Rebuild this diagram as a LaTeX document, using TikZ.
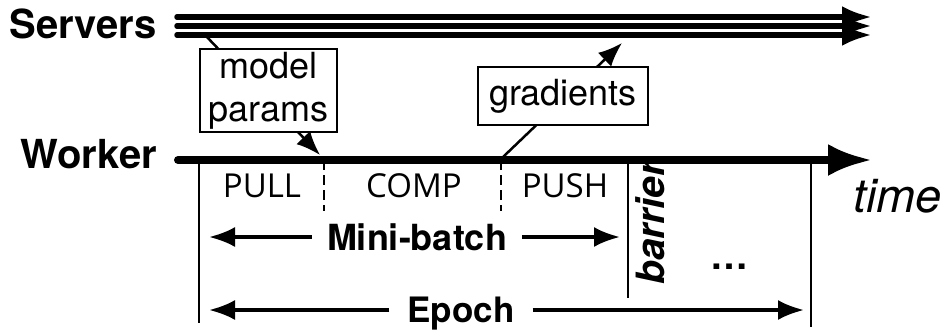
\documentclass[tikz,border=0pt]{standalone}
\usepackage{fontspec}
\setmainfont{TeX Gyre Heros}
\newfontfamily\phasefont{Open Sans}
\usetikzlibrary{arrows.meta}

\begin{document}
\begin{tikzpicture}[x=1pt,y=-1pt]
\tikzstyle{rolename}=[font=\fontsize{40}{44}\selectfont\bfseries, anchor=base east, inner sep=0pt]
\tikzstyle{msgbox}=[draw, line width=2pt, fill=white, align=center, font=\fontsize{36}{43}\selectfont, inner sep=0pt]
\tikzstyle{msg}=[-{Latex[length=24pt,width=19pt]}, line width=2.5pt]
\tikzstyle{phase}=[font=\fontsize{33}{36}\selectfont\phasefont]
\tikzstyle{spanname}=[font=\fontsize{36}{40}\selectfont\bfseries, text depth=0pt, inner ysep=0pt]
\tikzstyle{span}=[-{Latex[length=26pt,width=20pt]}, line width=3.5pt]
\tikzstyle{tickline}=[line width=2.5pt]
\tikzstyle{phaseline}=[tickline, dash pattern=on 10pt off 5pt]

\useasboundingbox (0,0) rectangle (949,330);

\node[rolename] (S) at (157,38) {Servers};
\node[rolename] (W) at (157,168) {Worker};

% server timelines
\foreach \y in {17,26,35}
  \draw[line width=5.5pt, line cap=round, -{Latex[length=30pt,width=22pt]}] (177,\y) -- (872,\y);

% worker timeline
\coordinate (w0) at (178,160);
\coordinate (w1) at (872,160);
\draw[line width=8pt, line cap=round, -{Latex[length=44pt,width=32pt]}] (w0) -- (w1);

% ticks under the worker line
\draw[tickline] (199,160) -- (199,323);
\draw[phaseline] (324,160) -- (324,211);
\draw[phaseline] (501,160) -- (501,211);
\draw[tickline] (628,160) -- (628,298);
\draw[tickline] (811,160) -- (811,327);

% messages
\coordinate (pullsrc) at (205,35);
\coordinate (pulldst) at (320,155);
\coordinate (pushsrc) at (503,157);
\coordinate (pushdst) at (622,43);
\draw[msg] (pullsrc) -- (pulldst);
\draw[msg] (pushsrc) -- (pushdst);
\node[msgbox, minimum width=137pt, minimum height=83pt] (P) at (268.5,90.5) {model\\params};
\node[msgbox, minimum width=170pt, minimum height=58pt] (G) at (563,96) {gradients};

\node[phase] (pull) at (262,186) {PULL};
\node[phase] (comp) at (414,186) {COMP};
\node[phase] (push) at (565,186) {PUSH};

\node[spanname, inner xsep=15pt] (mb) at (417,237) {Mini-batch};
\coordinate (mbL) at (209,237);
\coordinate (mbR) at (620,237);
\draw[span] (mb) -- (mbL);
\draw[span] (mb) -- (mbR);

\node[spanname, inner xsep=18pt, font=\fontsize{35}{40}\selectfont\bfseries] (ep) at (461,310) {Epoch};
\coordinate (epL) at (209,310);
\coordinate (epR) at (804,310);
\draw[span] (ep) -- (epL);
\draw[span] (ep) -- (epR);

\node[font=\fontsize{39}{40}\selectfont\bfseries\itshape, rotate=90] (B) at (650,223) {barrier};
\node[font=\fontsize{38}{40}\selectfont\bfseries, anchor=base] (D) at (729,269) {…};
\node[font=\fontsize{47}{50}\selectfont\itshape, anchor=base west, inner sep=0pt] (T) at (853,212) {time};

\end{tikzpicture}
\end{document}
